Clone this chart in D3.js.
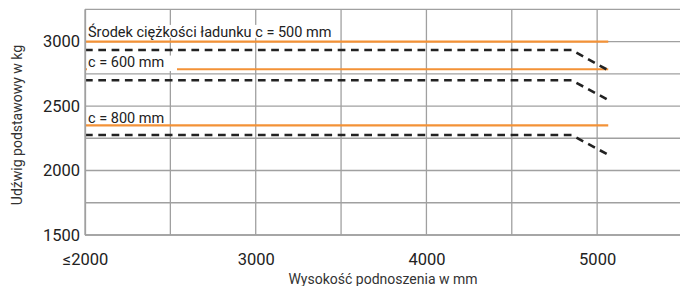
<!DOCTYPE html>
<html>
<head>
<meta charset="utf-8">
<script src="https://cdn.jsdelivr.net/npm/d3@7"></script>
<style>
  body { margin: 0; background: #fff; }
  svg { display: block; font-family: Roboto, "Noto Sans", sans-serif; }
</style>
</head>
<body>
<svg id="chart" width="680" height="286"></svg>
<script>
// values
var xTicks = [2000, 3000, 4000, 5000];
var xTickLabels = ["≤2000", "3000", "4000", "5000"];
var yTicks = [1500, 2000, 2500, 3000];
var xGrid = [2000, 2500, 3000, 3500, 4000, 4500, 5000];
var yGrid = [1500, 1750, 2000, 2250, 2500, 2750, 3000, 3250];

var seriesNames = ["Środek ciężkości ładunku c = 500 mm", "c = 600 mm", "c = 800 mm"];
// orange: reference capacity, black dashed: capacity drop at larger heights
var orangeLines = [
    [[2000, 3000], [5065, 3000]],
    [[2000, 2785], [5065, 2785]],
    [[2000, 2350], [5065, 2350]]
];
var dashedLines = [
    [[2000, 2935], [4850, 2935], [5075, 2770]],
    [[2000, 2700], [4850, 2700], [5075, 2540]],
    [[2000, 2275], [4850, 2275], [5075, 2115]]
];
var labelY = [3036, 2806, 2372]; // label baselines in kg units

var svg = d3.select("#chart");
var plotLeft = 85, plotRight = 682.5, plotTop = 9.3, plotBottom = 235;

var x = d3.scaleLinear().domain([2000, 5500]).range([plotLeft, plotRight]);
var y = d3.scaleLinear().domain([1500, 3250]).range([plotBottom, plotTop]);

// grid
svg.append("g").selectAll("line").data(yGrid).enter().append("line")
    .attr("x1", plotLeft).attr("x2", 680)
    .attr("y1", function(d){ return y(d); }).attr("y2", function(d){ return y(d); })
    .style("stroke", "#a0a0a0").style("stroke-width", 1.3);
svg.append("g").selectAll("line").data(xGrid).enter().append("line")
    .attr("x1", function(d){ return x(d); }).attr("x2", function(d){ return x(d); })
    .attr("y1", plotTop).attr("y2", plotBottom)
    .style("stroke", "#a0a0a0").style("stroke-width", 1.3);

var line = d3.line().x(function(d){ return x(d[0]); }).y(function(d){ return y(d[1]); });

// orange lines
for (var i = 0; i < orangeLines.length; i++){
    svg.append("path").attr("d", line(orangeLines[i]))
        .style("fill", "none").style("stroke", "#f39237").style("stroke-width", 2.2);
}
// dashed lines
for (var i = 0; i < dashedLines.length; i++){
    svg.append("path").attr("d", line(dashedLines[i]))
        .style("fill", "none").style("stroke", "#222").style("stroke-width", 2.6)
        .style("stroke-dasharray", "7.7,5.6");
}

// labels with white boxes behind them
for (var i = 0; i < seriesNames.length; i++){
    var g = svg.append("g");
    var baseY = y(labelY[i]);
    var t = g.append("text").attr("x", 88).attr("y", baseY)
        .style("font-size", "14.5px").style("fill", "#222").text(seriesNames[i]);
    var bb = t.node().getBBox();
    var boxBottom = i == 1 ? baseY + 4.5 : baseY + 1; // the 600 box hides part of its orange line
    g.insert("rect", "text").attr("x", bb.x - 1).attr("y", bb.y + 2)
        .attr("width", i == 1 ? 178 - bb.x : bb.width + 3).attr("height", boxBottom - bb.y - 2)
        .style("fill", "#fff");
}

// axes
svg.append("g").attr("transform", "translate(0," + plotBottom + ")")
    .call(d3.axisBottom(x).tickValues(xTicks).tickSize(0).tickPadding(18)
        .tickFormat(function(d, i){ return xTickLabels[i]; }))
    .call(function(g){ g.select(".domain").attr("d", "M" + plotLeft + ",0H680").style("stroke", "#a0a0a0").style("stroke-width", 1.3); })
    .selectAll("text").style("font-size", "16.5px").style("fill", "#222").style("font-family", "Roboto");

svg.append("g").attr("transform", "translate(" + plotLeft + ",0)")
    .call(d3.axisLeft(y).tickValues(yTicks).tickSize(0).tickPadding(5).tickFormat(d3.format("d")))
    .call(function(g){ g.select(".domain").style("stroke", "#a0a0a0").style("stroke-width", 1.3); })
    .selectAll("text").style("font-size", "16.5px").style("fill", "#222").style("font-family", "Roboto");

// axis titles
svg.append("text").attr("x", 383).attr("y", 284).attr("text-anchor", "middle")
    .style("font-size", "14px").style("fill", "#333").text("Wysokość podnoszenia w mm");
svg.append("text").attr("transform", "translate(22,125) rotate(-90)").attr("text-anchor", "middle")
    .style("font-size", "14px").style("fill", "#333").text("Udźwig podstawowy w kg");
</script>
</body>
</html>
